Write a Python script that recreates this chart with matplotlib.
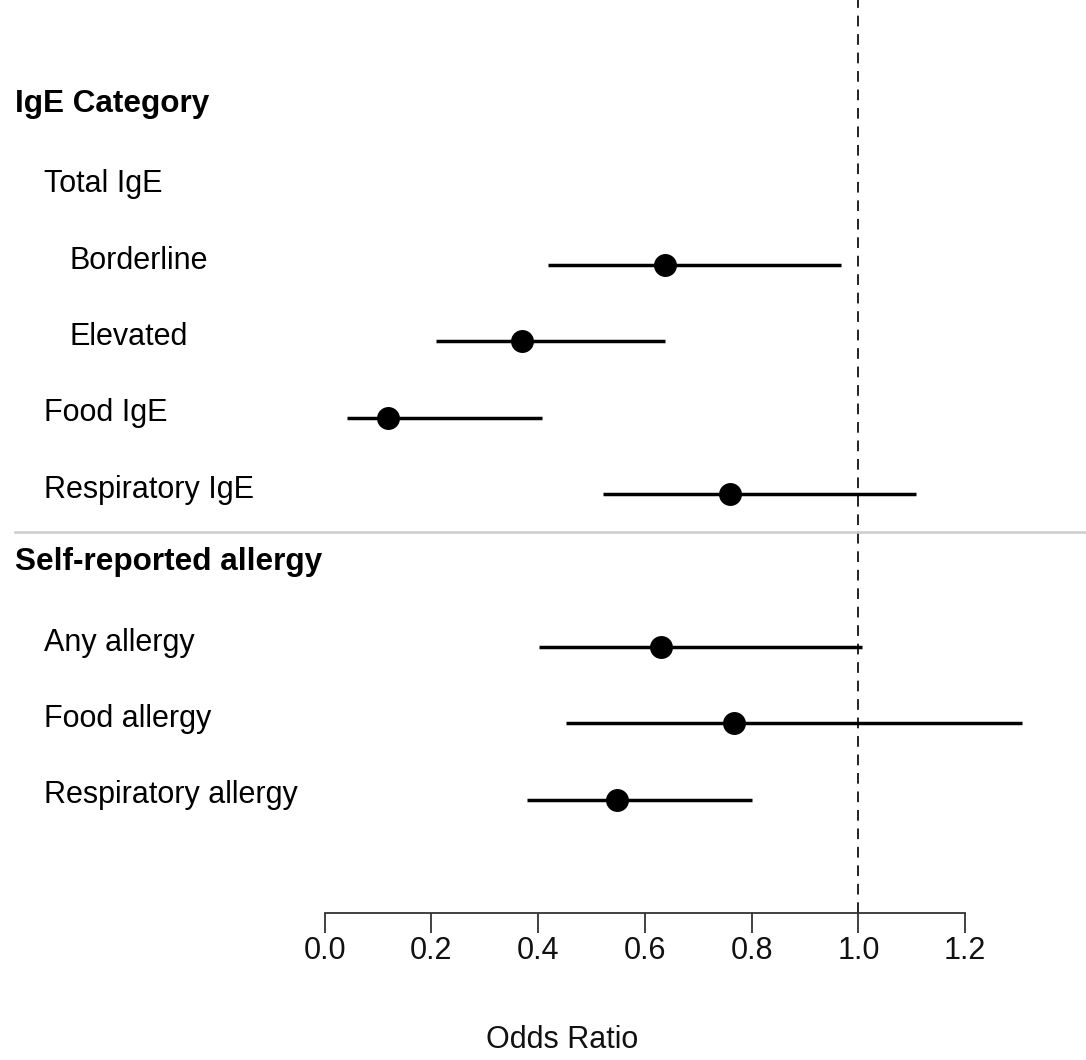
import numpy as np
import matplotlib
matplotlib.use("Agg")
from matplotlib import pyplot as plt
from matplotlib import transforms

plt.rcParams['font.family'] = ['Liberation Sans', 'DejaVu Sans']

# rows of the forest plot, top to bottom
labels = ['IgE Category', 'Total IgE', 'Borderline', 'Elevated', 'Food IgE',
          'Respiratory IgE', 'Self-reported allergy', 'Any allergy',
          'Food allergy', 'Respiratory allergy']
indent = [0, 1, 2, 2, 1, 1, 0, 1, 1, 1]
is_header = [True, False, False, False, False, False, True, False, False, False]

odds_ratio = [np.nan, np.nan, 0.637, 0.370, 0.119, 0.760, np.nan, 0.631, 0.767, 0.548]
ci_low = [np.nan, np.nan, 0.419, 0.209, 0.042, 0.521, np.nan, 0.402, 0.452, 0.380]
ci_high = [np.nan, np.nan, 0.967, 0.637, 0.407, 1.107, np.nan, 1.007, 1.306, 0.800]

xticks = [0.0, 0.2, 0.4, 0.6, 0.8, 1.0, 1.2]

W, H = 1086, 1060
fig = plt.figure(figsize=(W / 100, H / 100), dpi=100)
ax_bottom = 913
ax = fig.add_axes([0, 1 - ax_bottom / H, 1, ax_bottom / H])

x0, x1 = 324.6, 858.4   # pixel positions of 0 and 1 on the scale
px_per_unit = x1 - x0
row_top, row_step = 112.0, 76.4
ax.set_xlim(-x0 / px_per_unit, (W - x0) / px_per_unit)
ax.set_ylim((ax_bottom - row_top) / row_step, -row_top / row_step)

rows = np.arange(len(labels))
odds_ratio = np.array(odds_ratio)
ci_low = np.array(ci_low)
ci_high = np.array(ci_high)

ax.axvline(1.0, color='#222222', lw=1.4, ls=(0, (5.5, 4)), zorder=1)
ax.axhline(5.5, color='#cccccc', lw=1.8, xmin=15 / W, xmax=1, zorder=1)

ax.hlines(rows, ci_low, ci_high, color='black', lw=2.5, zorder=2)
ax.plot(odds_ratio, rows, 'o', color='black', ms=15.5, zorder=3)

# row labels, left of the scale
trans = transforms.blended_transform_factory(fig.transFigure, ax.transData)
indent_px = [15, 44, 70]
for r, (lab, ind, hdr) in enumerate(zip(labels, indent, is_header)):
    ax.text(indent_px[ind] / W, r + (0 if hdr else 0.05), lab, transform=trans,
            ha='left', va='baseline', fontsize=22.7 if hdr else 22,
            fontweight='bold' if hdr else 'normal', color='black')

for s in ['top', 'right', 'left']:
    ax.spines[s].set_visible(False)
ax.spines['bottom'].set_bounds(0, 1.2)
ax.spines['bottom'].set_color('#333333')
ax.spines['bottom'].set_linewidth(1.3)
ax.set_yticks([])
ax.set_xticks(xticks)
ax.set_xticklabels([f'{t:.1f}' for t in xticks])
ax.tick_params(axis='x', direction='out', length=14.5, width=1.3,
               color='#333333', labelsize=22, pad=2, labelcolor='#111111')

fig.text(562 / W, 1 - 1040 / H, 'Odds Ratio', ha='center', va='center',
         fontsize=22, color='#111111')

fig.savefig('out.png', dpi=100)
